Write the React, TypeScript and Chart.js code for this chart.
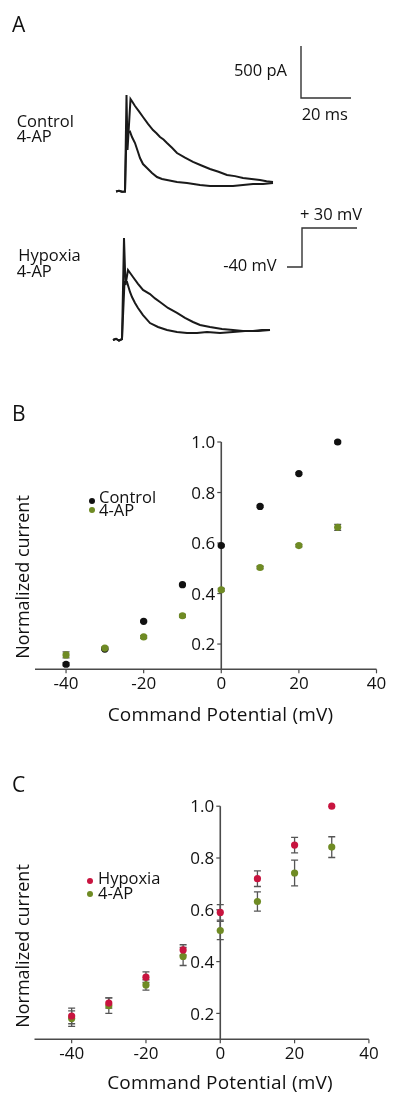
import React, { useEffect, useRef } from 'react';
import { Chart, registerables } from 'chart.js';
Chart.register(...registerables);

const FONT = '"Open Sans", Lato, sans-serif';
const INK = '#111111';
const AXIS = '#4a4a4a';
const GREEN = '#6f8b24';
const RED = '#c8143f';
const BLACK = '#111111';
const ERR = '#555555';
const TRACE = '#1a1a1a';

// ---------- Panel A: current traces (time in ms, current in pA) ----------
const ctrlTime = [-4, -2.8, -1.6, -0.4, 0.2, 0.6, 1.8, 2.6, 3.6, 5.2, 6.8, 8.8, 10.8, 12.2, 13.6, 15.0, 16.4, 18.4, 20.4, 23.6, 26.8, 30.2, 33.6, 37.0, 40.4, 43.6, 46.8, 50.2, 53.6, 56.2, 58.8];
const ctrlCurrent = [0, 6, -3, 0, 928, 399, 889, 860, 822, 770, 716, 650, 591, 560, 524, 500, 466, 420, 370, 325, 284, 250, 216, 190, 159, 148, 130, 120, 111, 98, 91];
const ctrl4apTime = [-4, -2.8, -1.6, -0.4, 0.2, 1.6, 2.4, 3.6, 4.8, 5.6, 6.8, 8.4, 10.4, 12.4, 14.4, 16.4, 20.4, 24.4, 29.6, 33.6, 38.4, 42.8, 46.8, 50.8, 54.8, 58.8];
const ctrl4apCurrent = [0, 6, -3, 0, 560, 575, 524, 466, 380, 322, 264, 226, 178, 139, 120, 111, 91, 82, 63, 53, 53, 53, 63, 72, 72, 82];
const hypTime = [-4.4, -3.2, -2.0, -0.8, 0, 0.6, 1.6, 3.6, 5.6, 7.6, 10.4, 12.4, 14.4, 17.6, 21.2, 24.4, 27.6, 30.4, 34.4, 39.2, 43.6, 47.6, 51.6, 55.2, 58.4];
const hypCurrent = [0, 12, -5, 8, 981, 529, 673, 606, 540, 481, 442, 400, 365, 308, 260, 212, 173, 144, 125, 106, 96, 87, 87, 96, 96];
const hyp4apTime = [-4.4, -3.2, -2.0, -0.8, 0.2, 1.2, 2.4, 3.2, 4.4, 5.6, 7.6, 10.4, 13.6, 17.2, 21.2, 25.2, 29.2, 33.2, 38.4, 43.6, 48.4, 53.6, 58.4];
const hyp4apCurrent = [0, 12, -5, 8, 558, 558, 462, 413, 356, 308, 240, 163, 125, 96, 77, 67, 67, 77, 67, 77, 87, 87, 96];
const scaleBarTime = [70, 70, 90];
const scaleBarCurrent = [1399, 899, 899];
const stepTime = [65.2, 71.2, 71.2, 93.2];
const stepVoltage = [-40, -40, 30, 30];

// ---------- Panels B and C: I-V data ----------
const voltages = [-40, -30, -20, -10, 0, 10, 20, 30];
const bControl = [0.12, 0.18, 0.29, 0.435, 0.59, 0.745, 0.875, 1.0];
const bControlErr = [0.006, 0.004, 0.004, 0.004, 0.004, 0.004, 0.004, 0.004];
const b4AP = [0.157, 0.184, 0.228, 0.312, 0.415, 0.503, 0.59, 0.662];
const b4APErr = [0.012, 0.005, 0.005, 0.005, 0.005, 0.005, 0.005, 0.012];
const cHypoxia = [0.19, 0.24, 0.34, 0.445, 0.59, 0.72, 0.85, 1.0];
const cHypoxiaErr = [0.03, 0.02, 0.02, 0.02, 0.03, 0.03, 0.03, 0];
const c4AP = [0.18, 0.23, 0.31, 0.42, 0.52, 0.632, 0.742, 0.842];
const c4APErr = [0.03, 0.03, 0.02, 0.035, 0.035, 0.037, 0.05, 0.04];
const xTickValues = [-40, -20, 0, 20, 40];
const xTickLabels = ['-40', '-20', '0', '20', '40'];
const yTickValues = [0.2, 0.4, 0.6, 0.8, 1.0];
const yTickLabels = ['0.2', '0.4', '0.6', '0.8', '1.0'];

const zip = (xs: number[], ys: number[]) => xs.map((x, i) => ({ x, y: ys[i] }));

const TICK_SIZE = 17;

const ivPlugin = {
  id: 'ivAxes',
  beforeDatasetsDraw(chart: any) {
    const { ctx, chartArea, scales } = chart;
    const xs = scales.x, ys = scales.y;
    const axisY = ys.getPixelForValue(ys.min);
    const axisX = xs.getPixelForValue(0);
    ctx.save();
    ctx.strokeStyle = AXIS;
    ctx.lineWidth = 1.6;
    ctx.beginPath();
    ctx.moveTo(chartArea.left, axisY);
    ctx.lineTo(chartArea.right, axisY);
    ctx.stroke();
    ctx.beginPath();
    ctx.moveTo(axisX, ys.getPixelForValue(ys.max));
    ctx.lineTo(axisX, axisY);
    ctx.stroke();
    ctx.lineWidth = 1.2;
    xTickValues.forEach((v) => {
      const px = xs.getPixelForValue(v);
      ctx.beginPath(); ctx.moveTo(px, axisY); ctx.lineTo(px, axisY + 4); ctx.stroke();
    });
    yTickValues.forEach((v) => {
      const py = ys.getPixelForValue(v);
      ctx.beginPath(); ctx.moveTo(axisX - 4, py); ctx.lineTo(axisX, py); ctx.stroke();
    });
    ctx.fillStyle = INK;
    ctx.font = `${TICK_SIZE}px ${FONT}`;
    ctx.textBaseline = 'alphabetic';
    ctx.textAlign = 'center';
    xTickValues.forEach((v, i) => ctx.fillText(xTickLabels[i], xs.getPixelForValue(v), axisY + 14 + 0.36 * TICK_SIZE));
    ctx.textAlign = 'right';
    yTickValues.forEach((v, i) => ctx.fillText(yTickLabels[i], axisX - 6, ys.getPixelForValue(v) + 0.36 * TICK_SIZE));
    // error bars
    chart.data.datasets.forEach((ds: any, i: number) => {
      const errs = ds.errors;
      if (!errs) return;
      const meta = chart.getDatasetMeta(i);
      ctx.strokeStyle = ERR;
      ctx.lineWidth = 1.3;
      meta.data.forEach((pt: any, j: number) => {
        const e = errs[j];
        if (!e) return;
        const v = ds.data[j].y;
        const top = ys.getPixelForValue(v + e);
        const bot = ys.getPixelForValue(v - e);
        ctx.beginPath();
        ctx.moveTo(pt.x, top); ctx.lineTo(pt.x, bot);
        ctx.moveTo(pt.x - 3.5, top); ctx.lineTo(pt.x + 3.5, top);
        ctx.moveTo(pt.x - 3.5, bot); ctx.lineTo(pt.x + 3.5, bot);
        ctx.stroke();
      });
    });
    ctx.restore();
  },
};

const baseOptions = (scales: any, padding: any) => ({
  animation: false,
  responsive: false,
  maintainAspectRatio: false,
  events: [],
  layout: { padding },
  plugins: { legend: { display: false }, tooltip: { enabled: false }, title: { display: false } },
  scales,
});

const traceDs = (xs: number[], ys: number[], extra: any = {}) => ({
  data: zip(xs, ys),
  showLine: true,
  borderColor: TRACE,
  borderWidth: 2,
  pointRadius: 0,
  tension: 0,
  clip: false,
  ...extra,
});

const configA1 = () => ({
  type: 'scatter',
  data: {
    datasets: [
      traceDs(ctrlTime, ctrlCurrent),
      traceDs(ctrl4apTime, ctrl4apCurrent),
      traceDs(scaleBarTime, scaleBarCurrent, { borderWidth: 1.4, borderColor: '#333' }),
    ],
  },
  options: baseOptions(
    {
      x: { type: 'linear', display: false, min: -50.4, max: 109.6 },
      y: { type: 'linear', display: false, min: -81.7, max: 1841.3 },
    },
    0
  ),
});

const configA2 = () => ({
  type: 'scatter',
  data: {
    datasets: [
      traceDs(hypTime, hypCurrent),
      traceDs(hyp4apTime, hyp4apCurrent),
      traceDs(stepTime, stepVoltage, { borderWidth: 1.4, borderColor: '#333', yAxisID: 'y2' }),
    ],
  },
  options: baseOptions(
    {
      x: { type: 'linear', display: false, min: -49.6, max: 110.4 },
      y: { type: 'linear', display: false, min: -384.6, max: 1346.2 },
      y2: { type: 'linear', axis: 'y', display: false, min: -242.9, max: 80.3 },
    },
    0
  ),
});

const pointDs = (ys: number[], errs: number[], color: string, order: number) => ({
  data: zip(voltages, ys),
  errors: errs,
  backgroundColor: color,
  borderColor: color,
  borderWidth: 0,
  pointRadius: 3.6,
  order,
  clip: false,
});

const configB = () => ({
  type: 'scatter',
  data: {
    datasets: [pointDs(b4AP, b4APErr, GREEN, 0), pointDs(bControl, bControlErr, BLACK, 1)],
  },
  options: baseOptions(
    {
      x: { type: 'linear', display: false, min: -48, max: 40 },
      y: { type: 'linear', display: false, min: 0.1, max: 1.0 },
    },
    { left: 35, right: 23.5, top: 42, bottom: 30.7 }
  ),
  plugins: [ivPlugin],
});

const configC = () => ({
  type: 'scatter',
  data: {
    datasets: [pointDs(cHypoxia, cHypoxiaErr, RED, 0), pointDs(c4AP, c4APErr, GREEN, 1)],
  },
  options: baseOptions(
    {
      x: { type: 'linear', display: false, min: -50, max: 40 },
      y: { type: 'linear', display: false, min: 0.1, max: 1.0 },
    },
    { left: 34.5, right: 31.1, top: 36.2, bottom: 30.7 }
  ),
  plugins: [ivPlugin],
});

function ChartCanvas({ config, left, top, width, height }: any) {
  const ref = useRef<HTMLCanvasElement | null>(null);
  useEffect(() => {
    const chart = new Chart(ref.current as HTMLCanvasElement, config() as any);
    return () => chart.destroy();
  }, []);
  return (
    <canvas
      ref={ref}
      width={width}
      height={height}
      style={{ position: 'absolute', left, top, width, height, display: 'block' }}
    />
  );
}

function Txt({ x, y, size = 16.5, align = 'left', spacing = 0, children }: any) {
  const style: any = {
    position: 'absolute',
    top: y - 0.55 * size,
    fontSize: size,
    lineHeight: `${size}px`,
    whiteSpace: 'nowrap',
    fontFamily: FONT,
    color: INK,
    letterSpacing: spacing,
  };
  if (align === 'left') style.left = x;
  else if (align === 'right') style.right = 400 - x;
  else {
    style.left = x - 200;
    style.width = 400;
    style.textAlign = 'center';
  }
  return <div style={style}>{children}</div>;
}

function VTxt({ x, y, size = 18, children }: any) {
  return (
    <div
      style={{
        position: 'absolute',
        left: x - 150,
        top: y - size / 2,
        width: 300,
        textAlign: 'center',
        fontSize: size,
        lineHeight: `${size}px`,
        whiteSpace: 'nowrap',
        fontFamily: FONT,
        color: INK,
        transform: 'rotate(-90deg)',
      }}
    >
      {children}
    </div>
  );
}

function Dot({ x, y, color, d = 6 }: any) {
  return (
    <div
      style={{
        position: 'absolute',
        left: x - d / 2,
        top: y - d / 2,
        width: d,
        height: d,
        borderRadius: '50%',
        background: color,
      }}
    />
  );
}

export default function App() {
  return (
    <div style={{ position: 'absolute', left: 0, top: 0, width: 400, height: 1109, background: '#fff', overflow: 'hidden' }}>
      <ChartCanvas config={configA1} left={0} top={0} width={400} height={200} />
      <ChartCanvas config={configA2} left={0} top={200} width={400} height={180} />
      <ChartCanvas config={configB} left={0} top={400} width={400} height={300} />
      <ChartCanvas config={configC} left={0} top={770} width={400} height={300} />

      <Txt x={12} y={25.5} size={21}>A</Txt>
      <Txt x={287} y={71} align="right">500 pA</Txt>
      <Txt x={301.7} y={114.7}>20 ms</Txt>
      <Txt x={16.7} y={121.7}>Control</Txt>
      <Txt x={16.7} y={137}>4-AP</Txt>
      <Txt x={300} y={215.5}>+ 30 mV</Txt>
      <Txt x={276.7} y={266.3} align="right">-40 mV</Txt>
      <Txt x={18.3} y={256}>Hypoxia</Txt>
      <Txt x={16.7} y={272}>4-AP</Txt>

      <Txt x={12} y={414.5} size={21}>B</Txt>
      <Dot x={91.7} y={500.7} color={BLACK} />
      <Dot x={91.7} y={509.5} color={GREEN} />
      <Txt x={99} y={498}>Control</Txt>
      <Txt x={99} y={511}>4-AP</Txt>
      <VTxt x={21.5} y={577}>Normalized current</VTxt>
      <Txt x={220.5} y={715} size={19} spacing={0.2} align="center">Command Potential (mV)</Txt>

      <Txt x={12} y={785.5} size={21}>C</Txt>
      <Dot x={90} y={881} color={RED} />
      <Dot x={90} y={894} color={GREEN} />
      <Txt x={98} y={879}>Hypoxia</Txt>
      <Txt x={98} y={894}>4-AP</Txt>
      <VTxt x={21.5} y={946}>Normalized current</VTxt>
      <Txt x={220} y={1083.3} size={19} spacing={0.2} align="center">Command Potential (mV)</Txt>
    </div>
  );
}
